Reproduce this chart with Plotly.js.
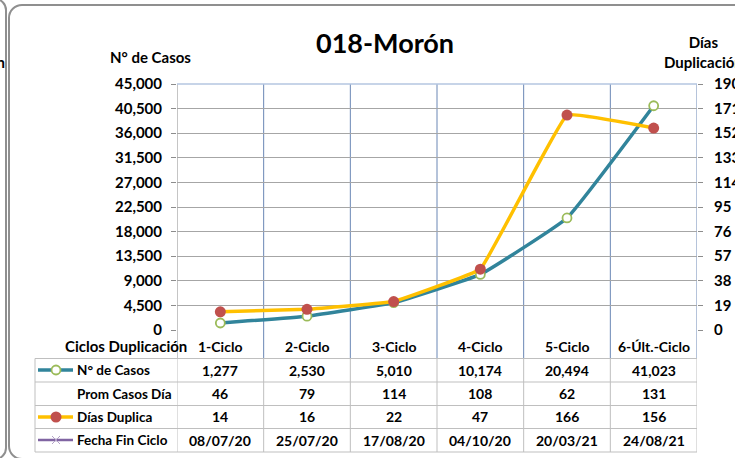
<!DOCTYPE html>
<html>
<head>
<meta charset="utf-8">
<script src="https://cdn.plot.ly/plotly-3.0.1.min.js"></script>
<style>
  html, body { margin:0; padding:0; width:735px; height:458px; overflow:hidden; background:#fff; }
  #leftFrame { position:absolute; left:-700px; top:-2px; width:703px; height:458px; border:2px solid #8f8f8f; border-radius:12px; }
  #mainFrame { position:absolute; left:8px; top:4px; width:780px; height:452px; border:2px solid #8f8f8f; border-radius:14px; }
  #leftText { position:absolute; left:-120px; top:53px; width:125px; text-align:right; font:bold 15px Lato, sans-serif; color:#000; }
  #chart { position:absolute; left:0; top:0; width:735px; height:458px; }
</style>
</head>
<body>
<div id="leftFrame"></div>
<div id="leftText">Duplicación</div>
<div id="mainFrame"></div>
<div id="chart"></div>
<script>
// ---- data ----
const categories = ['1-Ciclo', '2-Ciclo', '3-Ciclo', '4-Ciclo', '5-Ciclo', '6-Últ.-Ciclo'];
const casos = [1277, 2530, 5010, 10174, 20494, 41023];
const promCasosDia = [46, 79, 114, 108, 62, 131];
const diasDuplica = [14, 16, 22, 47, 166, 156];
const fechaFinCiclo = ['08/07/20', '25/07/20', '17/08/20', '04/10/20', '20/03/21', '24/08/21'];
const rowLabels = ['N° de Casos', 'Prom Casos Día', 'Días Duplica', 'Fecha Fin Ciclo'];
const chartTitle = '018-Morón';

// ---- geometry helpers (pixel -> paper) ----
const L = 177, R = 697, T = 84, B = 330;
const W = R - L, H = B - T;
const px = x => (x - L) / W;
const py = y => (B - y) / H;

const FONT = 'Lato, "Open Sans", sans-serif';
const fnt = (s) => ({family: FONT, size: s, color: '#000', weight: 'bold'});

const teal = '#31849B', yellow = '#FFC000', red = '#C0504D', green = '#9BBB59', purple = '#8064A2';

const traces = [
  {
    x: categories, y: casos, type: 'scatter', mode: 'lines+markers', name: rowLabels[0],
    line: {color: teal, width: 3.5, shape: 'spline', smoothing: 0.3},
    marker: {symbol: 'circle', size: 9, color: '#fff', line: {color: green, width: 1.8}},
    yaxis: 'y', cliponaxis: false
  },
  {
    x: categories, y: diasDuplica, type: 'scatter', mode: 'lines+markers', name: rowLabels[2],
    line: {color: yellow, width: 3.5, shape: 'spline', smoothing: 0.2},
    marker: {symbol: 'circle', size: 11, color: red},
    yaxis: 'y2', cliponaxis: false
  }
];

const shapes = [];
const annotations = [];

// table geometry
const tTop = 358.5, tBottom = 452, tLeft = 35;
const rowLines = [382, 405.5, 428.5];
const rowCenters = [370, 393.5, 417, 440];
const headerY = 346;

// vertical category boundary lines
for (let i = 0; i <= categories.length; i++) {
  const xb = i - 0.5;
  shapes.push({type: 'line', xref: 'x', yref: 'paper', x0: xb, x1: xb, y0: py(tTop), y1: 1,
    line: {color: i > 0 ? '#6a87b5' : '#8c8c8c', width: 1}, layer: 'below'});
  shapes.push({type: 'line', xref: 'x', yref: 'paper', x0: xb, x1: xb, y0: py(tBottom), y1: py(tTop),
    line: {color: '#bfbfbf', width: 1}});
}
// top line of plot
shapes.push({type: 'line', xref: 'paper', yref: 'paper', x0: 0, x1: 1, y0: 1, y1: 1,
  line: {color: '#b4c6e0', width: 1.5}, layer: 'below'});
// table horizontal lines
[tTop, ...rowLines, tBottom].forEach(yy => {
  shapes.push({type: 'line', xref: 'paper', yref: 'paper', x0: px(tLeft), x1: 1, y0: py(yy), y1: py(yy),
    line: {color: '#bfbfbf', width: 1}});
});
shapes.push({type: 'line', xref: 'paper', yref: 'paper', x0: px(tLeft), x1: px(tLeft), y0: py(tTop), y1: py(tBottom),
  line: {color: '#bfbfbf', width: 1}});

// legend keys in table
const keyX0 = 38, keyX1 = 73, keyC = 56;
shapes.push({type: 'line', xref: 'paper', yref: 'paper', x0: px(keyX0), x1: px(keyX1), y0: py(rowCenters[0]), y1: py(rowCenters[0]),
  line: {color: teal, width: 3.5}});
shapes.push({type: 'circle', xref: 'paper', yref: 'paper', x0: px(keyC - 4.5), x1: px(keyC + 4.5), y0: py(rowCenters[0] + 4.5), y1: py(rowCenters[0] - 4.5),
  fillcolor: '#fff', line: {color: green, width: 1.8}});
shapes.push({type: 'line', xref: 'paper', yref: 'paper', x0: px(keyX0), x1: px(keyX1), y0: py(rowCenters[2]), y1: py(rowCenters[2]),
  line: {color: yellow, width: 3.5}});
shapes.push({type: 'circle', xref: 'paper', yref: 'paper', x0: px(keyC - 5.5), x1: px(keyC + 5.5), y0: py(rowCenters[2] + 5.5), y1: py(rowCenters[2] - 5.5),
  fillcolor: red, line: {color: red, width: 0}});
shapes.push({type: 'line', xref: 'paper', yref: 'paper', x0: px(keyX0), x1: px(keyX1), y0: py(rowCenters[3]), y1: py(rowCenters[3]),
  line: {color: purple, width: 2.5}});
shapes.push({type: 'line', xref: 'paper', yref: 'paper', x0: px(keyC - 4), x1: px(keyC + 4), y0: py(rowCenters[3] - 4), y1: py(rowCenters[3] + 4),
  line: {color: '#b3a2c7', width: 1}});
shapes.push({type: 'line', xref: 'paper', yref: 'paper', x0: px(keyC - 4), x1: px(keyC + 4), y0: py(rowCenters[3] + 4), y1: py(rowCenters[3] - 4),
  line: {color: '#b3a2c7', width: 1}});

// header row
annotations.push({text: 'Ciclos Duplicación', xref: 'paper', yref: 'paper', x: px(126), y: py(headerY),
  xanchor: 'center', yanchor: 'middle', showarrow: false, font: fnt(15)});
categories.forEach(c => annotations.push({text: c, xref: 'x', yref: 'paper', x: c, y: py(headerY),
  xanchor: 'center', yanchor: 'middle', showarrow: false, font: fnt(14)}));

// row labels
rowLabels.forEach((lab, r) => annotations.push({text: lab, xref: 'paper', yref: 'paper', x: px(75), y: py(rowCenters[r]),
  xanchor: 'left', yanchor: 'middle', showarrow: false, font: fnt(13.5)}));

// table values
const rows = [
  casos.map(v => v.toLocaleString('en-US')),
  promCasosDia.map(String),
  diasDuplica.map(String),
  fechaFinCiclo
];
rows.forEach((vals, r) => vals.forEach((v, i) => annotations.push({
  text: v, xref: 'x', yref: 'paper', x: categories[i], y: py(rowCenters[r]),
  xanchor: 'center', yanchor: 'middle', showarrow: false, font: fnt(14)
})));

// titles
annotations.push({text: chartTitle, xref: 'paper', yref: 'paper', x: px(385), y: py(43),
  xanchor: 'center', yanchor: 'middle', showarrow: false, font: fnt(27)});
annotations.push({text: 'N° de Casos', xref: 'paper', yref: 'paper', x: px(150), y: py(57),
  xanchor: 'center', yanchor: 'middle', showarrow: false, font: fnt(15)});
annotations.push({text: 'Días<br>Duplicación', xref: 'paper', yref: 'paper', x: px(703), y: py(52),
  xanchor: 'center', yanchor: 'middle', showarrow: false, font: fnt(15), align: 'center'});

const layout = {
  width: 735, height: 458,
  margin: {l: L, r: 735 - R, t: T, b: 458 - B, pad: 0},
  paper_bgcolor: 'rgba(0,0,0,0)', plot_bgcolor: 'rgba(0,0,0,0)',
  showlegend: false,
  xaxis: {
    type: 'category', range: [-0.5, 5.5], showticklabels: false, showgrid: false,
    zeroline: false, showline: false, ticks: '', fixedrange: true
  },
  yaxis: {
    range: [0, 45000], dtick: 4500, tick0: 0, tickformat: ',d',
    showgrid: true, gridcolor: '#a6a6a6', gridwidth: 1, zeroline: false,
    showline: false, ticks: 'outside', ticklen: 5, tickcolor: '#8c8c8c',
    tickfont: fnt(15), ticklabelstandoff: 6
  },
  yaxis2: {
    range: [0, 190], dtick: 19, tick0: 0, overlaying: 'y', side: 'right',
    showgrid: false, zeroline: false, showline: false,
    ticks: 'outside', ticklen: 5, tickcolor: '#8c8c8c',
    tickfont: fnt(15), ticklabelstandoff: 8
  },
  shapes: shapes,
  annotations: annotations,
  font: {family: FONT}
};

Plotly.newPlot('chart', traces, layout, {displayModeBar: false, staticPlot: true});
</script>
</body>
</html>
